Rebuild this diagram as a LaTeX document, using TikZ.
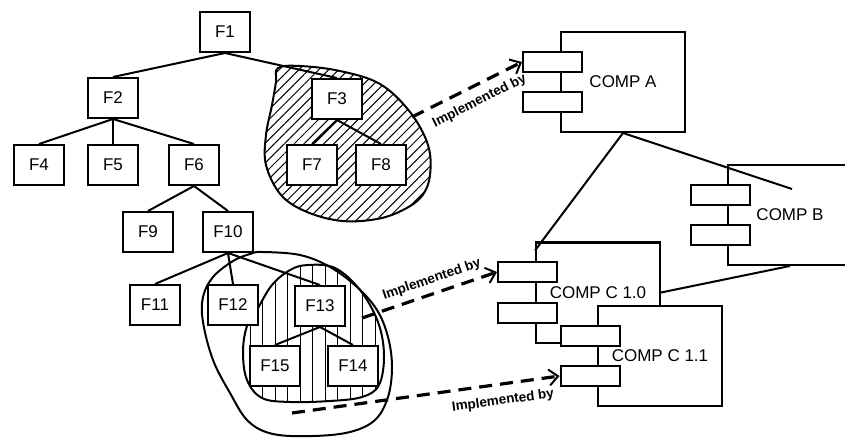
\documentclass[tikz,border=0pt]{standalone}
\usepackage{fontspec}
\setmainfont{Liberation Sans}
\usetikzlibrary{arrows.meta,patterns.meta}
\pgfdeclarelayer{blobs}
\pgfdeclarelayer{edges}
\pgfsetlayers{blobs,edges,main}
\begin{document}
\begin{tikzpicture}[x=1pt,y=-1pt,
  fbox/.style={draw, line width=2pt, fill=white, minimum width=50pt, minimum height=40pt, inner sep=0pt, font=\fontsize{17}{17}\selectfont},
  tree/.style={line width=2pt},
  comp/.style={draw, line width=2pt, fill=white, minimum width=124pt, minimum height=100pt, inner sep=0pt, font=\fontsize{17}{17}\selectfont},
  port/.style={draw, line width=2pt, fill=white, minimum width=59pt, minimum height=20pt, inner sep=0pt},
  impl/.style={line width=3.2pt, dash pattern=on 13pt off 8pt, -{Straight Barb[length=9pt,width=16pt,line width=2pt]}},
  lbl/.style={font=\fontsize{13.5}{13.5}\selectfont\bfseries, inner sep=1pt, sloped},
  blob/.style={line width=2pt},
  conn/.style={line width=2pt}
]
\useasboundingbox (0,0) rectangle (845,438);
\clip (0,0) rectangle (845,438);

% hatched regions
\begin{pgfonlayer}{blobs}
\draw[blob, pattern={Lines[angle=45,distance=7pt,line width=1pt]}]
  plot[smooth cycle, tension=0.6] coordinates {(278,68) (300,66) (340,71) (380,84) (410,112) (428,145) (430,175) (422,196) (403,210) (377,219) (342,221) (307,212) (281,195) (266,165) (266,135) (272,105) (276,82)};
\draw[blob]
  plot[smooth cycle, tension=0.6] coordinates {(262,252) (300,255) (330,267) (357,287) (377,310) (388,337) (392,367) (388,397) (375,420) (350,432) (313,436) (273,434) (248,421) (230,393) (213,360) (203,322) (203,297) (213,277) (233,261) (250,254)};
\draw[blob, pattern={Lines[angle=90,distance=12.5pt,line width=1pt]}]
  plot[smooth cycle, tension=0.6] coordinates {(258,308) (272,285) (290,270) (308,265) (335,268) (360,290) (378,322) (384,355) (379,385) (362,397) (330,401) (290,402) (262,398) (247,380) (243,352) (247,326)};
\end{pgfonlayer}

% feature nodes
\node[fbox] (F1) at (225,32) {F1};
\node[fbox] (F2) at (113,98) {F2};
\node[fbox] (F3) at (337,99) {F3};
\node[fbox] (F4) at (39,165) {F4};
\node[fbox] (F5) at (113,165) {F5};
\node[fbox] (F6) at (194,165) {F6};
\node[fbox] (F7) at (312,165) {F7};
\node[fbox] (F8) at (381,165) {F8};
\node[fbox] (F9) at (148,232) {F9};
\node[fbox] (F10) at (228,232) {F10};
\node[fbox] (F11) at (155,305) {F11};
\node[fbox] (F12) at (233,305) {F12};
\node[fbox] (F13) at (320,306) {F13};
\node[fbox] (F14) at (353,366) {F14};
\node[fbox] (F15) at (275,366) {F15};

% tree edges (behind the boxes)
\begin{pgfonlayer}{edges}
\foreach \p/\c in {F1/F2, F1/F3, F2/F4, F2/F5, F2/F6, F3/F7, F3/F8, F6/F9, F6/F10, F10/F11, F10/F12, F10/F13, F13/F14, F13/F15}
  \draw[tree] (\p.south) -- (\c.north);
\end{pgfonlayer}

% components
\node[comp] (cA) at (623,82) {COMP A};
\node[port] (pA1) at (552.5,62) {};
\node[port] (pA2) at (552.5,102) {};

\node[comp] (cB) at (790,215) {COMP B};
\node[port] (pB1) at (720.5,195) {};
\node[port] (pB2) at (720.5,235) {};

\node[comp] (c10) at (598,292.5) {COMP C 1.0};
\node[port] (p101) at (527.5,272) {};
\node[port] (p102) at (527.5,313) {};

\node[comp] (c11) at (660,356) {COMP C 1.1};
\node[port] (p111) at (590,336) {};
\node[port] (p112) at (590,376) {};

% component connectors
\draw[conn] (cA.south) -- ([yshift=-9pt]c10.north west);
\draw[conn] (cA.south) -- ([xshift=2pt,yshift=26pt]cB.center);
\draw[conn] (cB.south) -- (c10.east);

% implemented-by arrows
\coordinate (s1) at (412,117);
\coordinate (s2) at (362,318);
\coordinate (s3) at (292,413);
\draw[impl] (s1) -- (pA1.west) node[lbl, pos=0.55, below=7pt] {Implemented by};
\draw[impl] (s2) -- (p101.west) node[lbl, pos=0.55, above=5pt] {Implemented by};
\draw[impl] (s3) -- (p112.west) node[lbl, pos=0.78, below=8pt] {Implemented by};
\end{tikzpicture}
\end{document}
